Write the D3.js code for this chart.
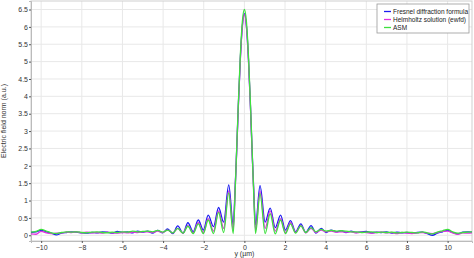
<!DOCTYPE html>
<html>
<head>
  <meta charset='utf-8'>
  <title>electric field norm</title>
  <script src="https://cdn.jsdelivr.net/npm/d3@7"></script>
  <style>
    html, body { margin: 0; padding: 0; background: #fff; }
    svg { display: block; font-family: "Liberation Sans", Arial, sans-serif; }
    .tick text { fill: #333; font-size: 7px; }
    .tick line { stroke: #555; }
    .grid line { stroke: #e8e8e8; }
  </style>
</head>
<body>
<svg id="chart" width="474" height="258"></svg>
<script>
// y position along the screen (um)
const yPos = [
  -10.5, -10.25, -10, -9.75, -9.5, -9.25, -9, -8.75, -8.5, -8.25, -8, -7.75, -7.5, -7.25,
  -7, -6.75, -6.5, -6.25, -6, -5.75, -5.5, -5.25, -5, -4.77, -4.52, -4.27, -4.02, -3.78,
  -3.52, -3.28, -3.02, -2.78, -2.52, -2.27, -2.02, -1.78, -1.52, -1.27, -1.02, -0.77,
  -0.55, -0.45, -0.4, -0.3, -0.2, -0.1, 0, 0.1, 0.2, 0.3, 0.4, 0.45, 0.55,
  0.77, 1.02, 1.27, 1.52, 1.78, 2.02, 2.27, 2.52, 2.78, 3.02, 3.28, 3.52, 3.78,
  4.02, 4.27, 4.52, 4.77, 5, 5.25, 5.5, 5.75, 6, 6.25, 6.5, 6.75, 7, 7.25, 7.5, 7.75,
  8, 8.25, 8.5, 8.75, 9, 9.25, 9.5, 9.75, 10, 10.25, 10.5, 10.75, 11, 11.2
];

// Fresnel diffraction formula
const fresnel = [
  0.08, 0.1, 0.14, 0.1, 0.06, 0.01, 0.06, 0.08, 0.1, 0.09, 0.07, 0.06, 0.08, 0.07,
  0.1, 0.09, 0.06, 0.11, 0.08, 0.1, 0.07, 0.12, 0.09, 0.12, 0.06, 0.14, 0.07, 0.18,
  0.05, 0.27, 0.06, 0.36, 0.1, 0.44, 0.15, 0.58, 0.25, 0.8, 0.38, 1.45,
  0.3, 1.45, 2.12, 3.69, 5.08, 6.03, 6.38, 6.03, 5.08, 3.69, 2.12, 1.45, 0.3,
  1.43, 0.38, 0.78, 0.22, 0.58, 0.15, 0.42, 0.1, 0.33, 0.08, 0.28, 0.06, 0.2,
  0.08, 0.15, 0.1, 0.13, 0.08, 0.12, 0.08, 0.1, 0.11, 0.07, 0.09, 0.08, 0.1, 0.06, 0.09, 0.07,
  0.08, 0.06, 0.08, 0.09, 0.05, 0.0, 0.06, 0.1, 0.14, 0.08, 0.04, 0.09, 0.1, 0.09
];

// Helmholtz solution (ewfd)
const helmholtz = [
  0.04, 0.03, 0.11, 0.07, 0.05, 0.06, 0.07, 0.09, 0.08, 0.1, 0.07, 0.09, 0.07, 0.08,
  0.06, 0.09, 0.07, 0.06, 0.08, 0.07, 0.09, 0.08, 0.1, 0.1, 0.08, 0.12, 0.08, 0.15,
  0.07, 0.2, 0.06, 0.28, 0.07, 0.36, 0.08, 0.48, 0.12, 0.7, 0.2, 1.28,
  0.15, 1.38, 2.1, 3.67, 5.05, 6.0, 6.35, 6.0, 5.05, 3.67, 2.1, 1.38, 0.15,
  1.27, 0.2, 0.7, 0.12, 0.48, 0.08, 0.36, 0.08, 0.28, 0.07, 0.2, 0.08, 0.15,
  0.1, 0.12, 0.09, 0.1, 0.09, 0.1, 0.07, 0.09, 0.08, 0.06, 0.08, 0.09, 0.07, 0.08, 0.05, 0.08,
  0.06, 0.05, 0.07, 0.08, 0.06, 0.05, 0.08, 0.11, 0.12, 0.07, 0.03, 0.07, 0.06, 0.07
];

// ASM
const asm = [
  0.09, 0.11, 0.17, 0.12, 0.07, 0.05, 0.08, 0.1, 0.09, 0.1, 0.08, 0.07, 0.09, 0.1,
  0.08, 0.07, 0.09, 0.08, 0.1, 0.09, 0.12, 0.1, 0.11, 0.12, 0.1, 0.14, 0.09, 0.15,
  0.07, 0.2, 0.06, 0.26, 0.05, 0.33, 0.05, 0.44, 0.05, 0.66, 0.08, 1.22,
  0.05, 1.35, 2.15, 3.76, 5.17, 6.15, 6.5, 6.15, 5.17, 3.76, 2.15, 1.35, 0.05,
  1.2, 0.05, 0.62, 0.04, 0.44, 0.05, 0.33, 0.06, 0.27, 0.08, 0.22, 0.1, 0.17,
  0.12, 0.14, 0.12, 0.13, 0.12, 0.1, 0.1, 0.08, 0.09, 0.1, 0.08, 0.09, 0.08, 0.09, 0.07, 0.08,
  0.09, 0.08, 0.07, 0.1, 0.07, 0.04, 0.09, 0.13, 0.17, 0.1, 0.06, 0.08, 0.09, 0.1
];

const seriesNames = ["Fresnel diffraction formula", "Helmholtz solution (ewfd)", "ASM"];
const seriesColors = ["#1c1cf0", "#e030e0", "#3ee03e"];
const xTicks = [-10, -8, -6, -4, -2, 0, 2, 4, 6, 8, 10];
const yTicks = [0, 0.5, 1, 1.5, 2, 2.5, 3, 3.5, 4, 4.5, 5, 5.5, 6, 6.5];

const margin = {top: 1, right: 2, bottom: 17, left: 31},
    width = 474 - margin.left - margin.right,
    height = 258 - margin.top - margin.bottom;

const svg = d3.select("#chart")
  .append("g")
    .attr("transform", `translate(${margin.left},${margin.top})`);

const x = d3.scaleLinear().domain([-10.5, 11.2]).range([0, width]);
const y = d3.scaleLinear().domain([-0.165, 6.745]).range([height, 0]);

// grid
svg.append("g").attr("class", "grid")
  .selectAll("line").data(xTicks).join("line")
    .attr("x1", d => x(d)).attr("x2", d => x(d))
    .attr("y1", 0).attr("y2", height);
svg.append("g").attr("class", "grid")
  .selectAll("line").data(yTicks).join("line")
    .attr("x1", 0).attr("x2", width)
    .attr("y1", d => y(d)).attr("y2", d => y(d));

// frame
svg.append("rect")
  .attr("width", width).attr("height", height)
  .attr("fill", "none").attr("stroke", "#cfcfcf");

// axes
const xAxis = svg.append("g")
  .attr("transform", `translate(0,${height})`)
  .call(d3.axisBottom(x).tickValues(xTicks).tickSize(2).tickPadding(2));
const yAxis = svg.append("g")
  .call(d3.axisLeft(y).tickValues(yTicks).tickSize(2).tickPadding(1).tickFormat(d3.format("")));
xAxis.select(".domain").attr("stroke", "#bbb");
yAxis.select(".domain").attr("stroke", "#bbb");

// axis titles
svg.append("text")
  .attr("x", x(0)).attr("y", height + 15)
  .attr("text-anchor", "middle")
  .attr("font-size", 7).attr("fill", "#333")
  .text("y (µm)");
svg.append("text")
  .attr("transform", `translate(${-25},${height / 2}) rotate(-90)`)
  .attr("text-anchor", "middle")
  .attr("font-size", 7).attr("fill", "#333")
  .text("Electric field norm (a.u.)");

// lines
const series = [fresnel, helmholtz, asm];
const line = d3.line()
  .x((d, i) => x(yPos[i]))
  .y(d => y(d))
  .curve(d3.curveMonotoneX);

svg.selectAll(".line")
  .data(series)
  .join("path")
    .attr("class", "line")
    .attr("fill", "none")
    .attr("stroke", (d, i) => seriesColors[i])
    .attr("stroke-width", 1.3)
    .attr("d", d => line(d));

// legend
const legend = svg.append("g").attr("transform", `translate(${377 - margin.left},${4 - margin.top})`);
legend.append("rect")
  .attr("width", 92).attr("height", 29)
  .attr("fill", "#fff").attr("stroke", "#999").attr("stroke-width", 0.8);
seriesNames.forEach((name, i) => {
  const row = legend.append("g").attr("transform", `translate(0,${7.5 + i * 8})`);
  row.append("line")
    .attr("x1", 7).attr("x2", 14)
    .attr("stroke", seriesColors[i]).attr("stroke-width", 1.3);
  row.append("text")
    .attr("x", 16).attr("y", 2.3)
    .attr("font-size", 6.5).attr("fill", "#222")
    .text(name);
});
</script>
</body>
</html>
